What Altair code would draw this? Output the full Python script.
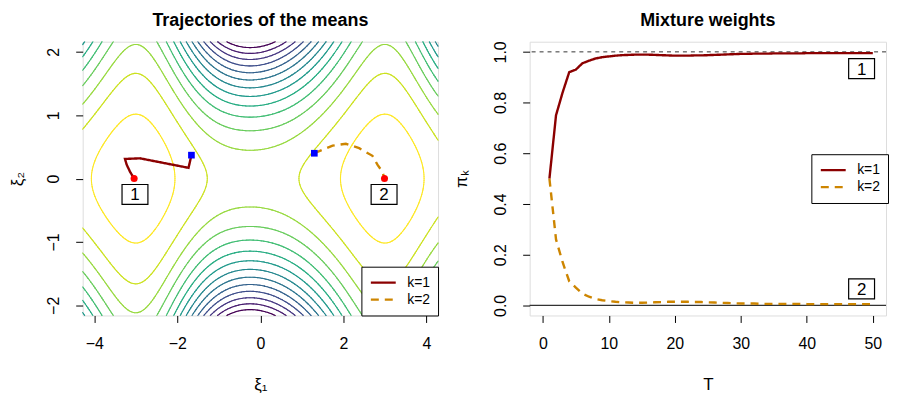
import numpy as np
import pandas as pd
import altair as alt

FONT = "Liberation Sans"

# ---------------- left panel: surface whose contours are drawn ----------------
x_dom = [-4.28, 4.28]
y_dom = [-2.16, 2.16]
A_coef = [-0.513, 1.056, 0.083, 0.026]   # profile along xi2 = 0
B_coef = [1.64, 1.06]                    # curvature in xi2
warp = 0.25                              # shift of the saddle
levels = list(range(0, -14, -1))

# trajectories of the means
k1_x = [-1.66, -1.73, -2.90, -3.26, -3.22, -3.14, -3.06, -3.04]
k1_y = [0.37, 0.17, 0.32, 0.31, 0.22, 0.11, 0.02, 0.0]
k2_x = [1.30, 1.74, 2.06, 2.38, 2.70, 2.82, 2.94, 2.98, 2.99]
k2_y = [0.40, 0.52, 0.55, 0.48, 0.36, 0.22, 0.11, 0.02, 0.0]
start_x = [-1.66, 1.30]
start_y = [0.37, 0.40]
end_x = [-3.04, 2.99]
end_y = [0.0, 0.0]
lab_x = [-3.02, 2.98]
lab_y = [-0.25, -0.25]
lab_txt = ["1", "2"]

# ---------------- right panel: mixture weights ----------------
T = list(range(1, 51))
pi1 = [0.50, 0.75, 0.84, 0.92, 0.93, 0.955, 0.965, 0.974, 0.979, 0.982,
       0.985, 0.987, 0.988, 0.989, 0.989, 0.989, 0.988, 0.987, 0.986, 0.985,
       0.985, 0.985, 0.986, 0.986, 0.987, 0.988, 0.989, 0.990, 0.991, 0.992,
       0.992, 0.993, 0.993, 0.993, 0.994, 0.994, 0.994, 0.994, 0.994, 0.995,
       0.995, 0.995, 0.995, 0.995, 0.995, 0.995, 0.995, 0.995, 0.995, 0.995]
pi2 = [0.50, 0.26, 0.17, 0.095, 0.07, 0.046, 0.034, 0.025, 0.020, 0.017,
       0.014, 0.012, 0.011, 0.010, 0.010, 0.011, 0.012, 0.013, 0.014, 0.014,
       0.014, 0.014, 0.013, 0.013, 0.012, 0.011, 0.010, 0.009, 0.008, 0.007,
       0.007, 0.007, 0.006, 0.006, 0.006, 0.006, 0.006, 0.006, 0.006, 0.005,
       0.005, 0.005, 0.005, 0.005, 0.005, 0.005, 0.005, 0.005, 0.005, 0.005]
wlab_T = [48.3, 48.3]
wlab_y = [0.934, 0.065]

COL1 = "#8B0000"
COL2 = "#CD8500"

# ---------- contour computation (marching squares) ----------
xs = np.linspace(x_dom[0], x_dom[1], 261)
ys = np.linspace(y_dom[0], y_dom[1], 141)
XX, YY = np.meshgrid(xs, ys)
U = XX + warp * np.cos(np.pi * XX / 6) ** 2
A = (A_coef[0] - A_coef[1] * np.cos(np.pi * U / 3) + A_coef[2] * np.cos(2 * np.pi * U / 3)
     + A_coef[3] * np.cos(np.pi * U))
B = B_coef[0] + B_coef[1] * np.cos(np.pi * U / 3)
Z = A - B * YY ** 2

segs = []
for lev in levels:
    above = Z > lev
    cnt = (above[:-1, :-1].astype(int) + above[:-1, 1:] + above[1:, :-1] + above[1:, 1:])
    js, iis = np.where((cnt > 0) & (cnt < 4))
    for j, i in zip(js, iis):
        z = [Z[j, i], Z[j, i + 1], Z[j + 1, i + 1], Z[j + 1, i]]
        p = [(xs[i], ys[j]), (xs[i + 1], ys[j]), (xs[i + 1], ys[j + 1]), (xs[i], ys[j + 1])]
        pts = []
        for e in range(4):
            a, b = e, (e + 1) % 4
            if (z[a] > lev) != (z[b] > lev):
                t = (lev - z[a]) / (z[b] - z[a])
                pts.append((p[a][0] + t * (p[b][0] - p[a][0]), p[a][1] + t * (p[b][1] - p[a][1])))
        if len(pts) == 2:
            segs.append((lev, pts[0][0], pts[0][1], pts[1][0], pts[1][1]))
        elif len(pts) == 4:
            c = sum(z) / 4
            if (c > lev) == (z[0] > lev):
                segs.append((lev, *pts[0], *pts[1]))
                segs.append((lev, *pts[2], *pts[3]))
            else:
                segs.append((lev, *pts[3], *pts[0]))
                segs.append((lev, *pts[1], *pts[2]))
seg_df = pd.DataFrame(segs, columns=["level", "x", "y", "x2", "y2"]).round(4)

traj_df = pd.concat([
    pd.DataFrame({"x": k1_x, "y": k1_y, "k": "k=1", "step": range(len(k1_x))}),
    pd.DataFrame({"x": k2_x, "y": k2_y, "k": "k=2", "step": range(len(k2_x))}),
])
start_df = pd.DataFrame({"x": start_x, "y": start_y})
end_df = pd.DataFrame({"x": end_x, "y": end_y})
lab_df = pd.DataFrame({"x": lab_x, "y": lab_y, "t": lab_txt})

W1, H = 357, 275
W2 = 358

xsc = alt.Scale(domain=x_dom, nice=False, zero=False)
ysc = alt.Scale(domain=y_dom, nice=False, zero=False)

axis_common = dict(grid=False, domain=False, tickColor="black", tickSize=7,
                   labelColor="black", labelFont=FONT, labelFontSize=16,
                   titleFont=FONT, titleFontSize=17, titleFontWeight="normal",
                   titleColor="black")

x_axis_l = alt.Axis(values=[-4, -2, 0, 2, 4], format="d", labelPadding=13,
                    title="ξ₁", titleX=W1 / 2, titleY=69, titleAlign="center",
                    titleBaseline="middle", **axis_common)
y_axis_l = alt.Axis(values=[-2, -1, 0, 1, 2], format="d", labelAngle=-90,
                    labelAlign="center", labelBaseline="bottom", labelPadding=14,
                    title="ξ₂", titleX=-65, titleY=H / 2, titleAngle=-90,
                    titleAlign="center", titleBaseline="middle", **axis_common)

leg_common = dict(title=None, fillColor="white", strokeColor="black", padding=8,
                  labelFont=FONT, labelFontSize=14, labelColor="black",
                  symbolType="stroke", symbolSize=625, symbolStrokeWidth=2.2,
                  rowPadding=1, labelOffset=10, clipHeight=16)

stroke_k = alt.Stroke("k:N", scale=alt.Scale(domain=["k=1", "k=2"], range=[COL1, COL2]),
                      legend=alt.Legend(orient="bottom-right", offset=0, **leg_common))
dash_k = alt.StrokeDash("k:N", scale=alt.Scale(domain=["k=1", "k=2"], range=[[1, 0], [8, 6]]),
                        legend=None)

contours = alt.Chart(seg_df).mark_rule(strokeWidth=1.1, strokeCap="round").encode(
    x=alt.X("x:Q", scale=xsc, axis=x_axis_l),
    y=alt.Y("y:Q", scale=ysc, axis=y_axis_l),
    x2="x2:Q", y2="y2:Q",
    color=alt.Color("level:Q", scale=alt.Scale(scheme="viridis", domain=[-13, 0]), legend=None),
)

traj = alt.Chart(traj_df).mark_line(strokeWidth=2.4, clip=True).encode(
    x="x:Q", y="y:Q", order="step:Q", stroke=stroke_k, strokeDash=dash_k,
)
starts = alt.Chart(start_df).mark_point(shape="square", filled=True, size=45, color="#0000FF",
                                        opacity=1).encode(x="x:Q", y="y:Q")
ends = alt.Chart(end_df).mark_point(shape="circle", filled=True, size=50, color="#FF0000",
                                    opacity=1).encode(x="x:Q", y="y:Q")
BOX = "M -1.3 -1 L 1.3 -1 L 1.3 1 L -1.3 1 Z"
boxes = alt.Chart(lab_df).mark_point(shape=BOX, size=400, filled=True, fill="white",
                                     stroke="black", strokeWidth=1.2, opacity=1).encode(x="x:Q", y="y:Q")
texts = alt.Chart(lab_df).mark_text(font=FONT, fontSize=17, color="black", dy=1).encode(
    x="x:Q", y="y:Q", text="t:N")

TITLE_KW = dict(font=FONT, fontSize=18, fontWeight="bold", color="black",
                anchor="middle", offset=11)

left = alt.layer(contours, traj, starts, ends, boxes, texts).properties(
    width=W1, height=H,
    title=alt.TitleParams("Trajectories of the means", **TITLE_KW),
).resolve_scale(color="independent")

# ---------------- right panel ----------------
w_df = pd.concat([
    pd.DataFrame({"T": T, "pi": pi1, "k": "k=1"}),
    pd.DataFrame({"T": T, "pi": pi2, "k": "k=2"}),
])
wlab_df = pd.DataFrame({"T": wlab_T, "y": wlab_y, "t": lab_txt})

Tsc = alt.Scale(domain=[-2, 52], nice=False, zero=False)
psc = alt.Scale(domain=[-0.04, 1.04], nice=False, zero=False)

x_axis_r = alt.Axis(values=[0, 10, 20, 30, 40, 50], format="d", labelPadding=13,
                    title="T", titleX=W2 / 2, titleY=69, titleAlign="center",
                    titleBaseline="middle", **axis_common)
y_axis_r = alt.Axis(values=[0, 0.2, 0.4, 0.6, 0.8, 1.0], format=".1f", labelAngle=-90,
                    labelAlign="center", labelBaseline="bottom", labelPadding=14,
                    title="πₖ", titleX=-68, titleY=H / 2, titleAngle=-90,
                    titleAlign="center", titleBaseline="middle", **axis_common)

stroke_k2 = alt.Stroke("k:N", scale=alt.Scale(domain=["k=1", "k=2"], range=[COL1, COL2]),
                       legend=alt.Legend(orient="none", legendX=283, legendY=113, **leg_common))

h1 = alt.Chart(pd.DataFrame({"v": [1.0]})).mark_rule(color="#333333", strokeWidth=1,
                                                      strokeDash=[4, 4]).encode(
    y=alt.Y("v:Q", scale=psc, axis=y_axis_r))
h0 = alt.Chart(pd.DataFrame({"v": [0.0]})).mark_rule(color="#333333", strokeWidth=1.3).encode(
    y=alt.Y("v:Q", scale=psc))
wlines = alt.Chart(w_df).mark_line(strokeWidth=2.4).encode(
    x=alt.X("T:Q", scale=Tsc, axis=x_axis_r),
    y=alt.Y("pi:Q", scale=psc),
    stroke=stroke_k2, strokeDash=dash_k,
)
wboxes = alt.Chart(wlab_df).mark_point(shape=BOX, size=400, filled=True, fill="white",
                                       stroke="black", strokeWidth=1.2, opacity=1).encode(
    x=alt.X("T:Q", scale=Tsc), y=alt.Y("y:Q", scale=psc))
wtexts = alt.Chart(wlab_df).mark_text(font=FONT, fontSize=17, color="black", dy=1).encode(
    x=alt.X("T:Q", scale=Tsc), y=alt.Y("y:Q", scale=psc), text="t:N")

right = alt.layer(h1, h0, wlines, wboxes, wtexts).properties(
    width=W2, height=H,
    title=alt.TitleParams("Mixture weights", **TITLE_KW),
)

chart = alt.hconcat(left, right, spacing=92).properties(
    padding={"left": 0, "top": 2, "right": 0, "bottom": 0},
    bounds="flush",
).resolve_scale(stroke="independent", strokeDash="independent", color="independent"
).resolve_legend(stroke="independent").configure_view(
    stroke="black", strokeWidth=1.2
).configure(background="white")

chart.save("out.html", embed_options={"renderer": "svg", "actions": False})
